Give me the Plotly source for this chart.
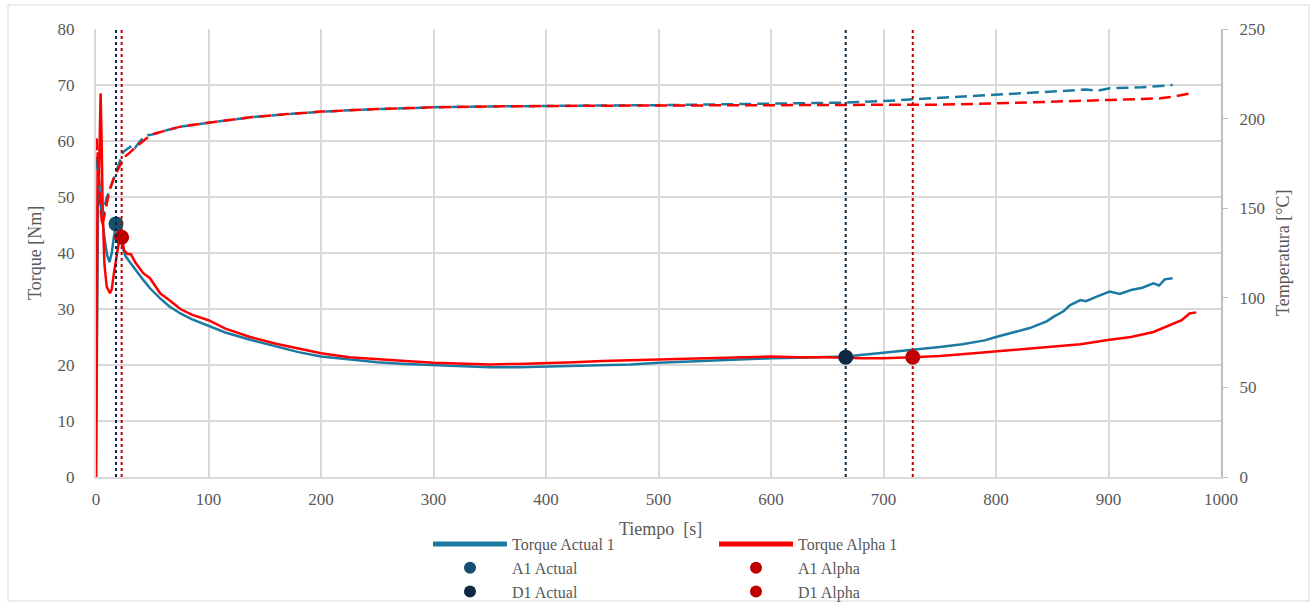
import plotly.graph_objects as go

# ---------------- data ----------------
# Torque (left axis, Nm)
t_torque_actual = [0, 1, 2, 3, 5, 8, 10, 12, 14, 16, 17.8, 20, 23, 26, 30, 35, 42, 48, 57, 65, 75, 85,
                   100, 115, 137, 160, 180, 200, 225, 250, 275, 300, 325, 350, 375, 400, 425, 450, 475,
                   500, 525, 550, 575, 600, 625, 650, 666.4, 680, 700, 720, 735, 750, 770, 790, 800, 815,
                   830, 845, 851, 860, 866, 875, 880, 889.5, 895, 901, 910, 920, 930, 940, 945, 950, 957]
torque_actual = [0, 30, 55, 52, 47, 42, 39.5, 38.4, 40, 43, 45.2, 43.5, 41.5, 39.5, 38.4, 37, 35.2, 33.7,
                 31.9, 30.5, 29.2, 28.2, 27.0, 25.8, 24.5, 23.3, 22.3, 21.5, 21.0, 20.5, 20.2, 20.0, 19.8,
                 19.6, 19.6, 19.7, 19.8, 20.0, 20.1, 20.4, 20.6, 20.9, 21.0, 21.2, 21.3, 21.4, 21.5, 21.8,
                 22.2, 22.6, 22.8, 23.2, 23.7, 24.4, 25.0, 25.8, 26.6, 27.8, 28.6, 29.6, 30.7, 31.6, 31.4,
                 32.2, 32.6, 33.1, 32.7, 33.4, 33.8, 34.6, 34.2, 35.3, 35.5]

t_torque_alpha = [0, 0.8, 1.5, 2.5, 3.3, 4.1, 5, 6, 7.5, 9.5, 12.4, 14, 16, 18, 20, 22.8, 25, 28, 31, 35,
                  42, 48, 57, 65, 75, 85, 100, 115, 137, 160, 180, 200, 225, 250, 275, 300, 325, 350, 375,
                  400, 425, 450, 475, 500, 525, 550, 575, 600, 625, 650, 680, 700, 726, 750, 775, 800, 825,
                  851, 875, 901, 920, 940, 958, 965, 972, 978]
torque_alpha = [0, 40, 58, 52, 60, 68.5, 60, 47, 38, 34, 32.8, 33.5, 36.5, 39.5, 41.5, 42.8, 40.5, 39.8,
                39.8, 38.3, 36.4, 35.5, 32.8, 31.6, 30.0, 29.0, 28.0, 26.5, 25.0, 23.8, 22.9, 22.1, 21.4,
                21.0, 20.7, 20.4, 20.2, 20.1, 20.2, 20.3, 20.5, 20.7, 20.9, 21.0, 21.1, 21.2, 21.3, 21.5,
                21.4, 21.4, 21.2, 21.2, 21.4, 21.6, 22.0, 22.4, 22.8, 23.3, 23.7, 24.5, 25.0, 25.9, 27.4,
                28.0, 29.2, 29.4]

# Temperature (right axis, °C)
t_temp_actual = [0.5, 2, 4, 6, 9, 12, 15.4, 20, 24.3, 30, 33.2, 35, 40, 45, 48, 60, 75, 100, 137, 170,
                 200, 250, 300, 350, 401, 450, 500, 550, 602, 664, 700, 750, 800, 850, 880, 890, 901, 930,
                 950, 957]
temp_actual = [178, 165, 152, 145, 155, 160, 166, 173, 181.5, 184, 185.8, 184, 188, 190.8, 190.8, 193,
               195.5, 197.7, 200.7, 202.5, 203.9, 205.3, 206.3, 206.8, 207.2, 207.3, 207.5, 207.8, 208.5,
               208.9, 209.8, 211.5, 213.2, 214.8, 216.2, 215.5, 216.9, 217.5, 218.3, 218.7]

t_temp_alpha = [0.5, 2, 4, 5.5, 7.5, 9.5, 12, 15.4, 20, 24.3, 30, 35, 45, 48, 60, 75, 100, 137, 170, 200,
                250, 300, 350, 401, 450, 500, 550, 602, 664, 700, 750, 800, 850, 901, 946, 960, 976]
temp_alpha = [189, 170, 152, 140, 146, 154, 160, 166, 172, 178, 181, 184, 189, 190.8, 193, 195.5, 197.7,
              200.7, 202.5, 203.9, 205.3, 206.3, 206.8, 207.2, 207.2, 207.3, 207.4, 207.7, 207.6, 207.6,
              207.8, 208.5, 209.3, 210.4, 211.3, 212.5, 214.5]

# Event points (time s, torque Nm)
a1_actual = (17.8, 45.2)
d1_actual = (666.4, 21.4)
a1_alpha = (22.8, 42.8)
d1_alpha = (726.0, 21.4)

x_ticks = [0, 100, 200, 300, 400, 500, 600, 700, 800, 900, 1000]
x_title = "Tiempo  [s]"
y_title = "Torque [Nm]"
y2_title = "Temperatura [°C]"

# ---------------- styles ----------------
BLUE = "#1a7aa2"
RED = "#ff0000"
A1_ACT_C = "#15506e"
D1_ACT_C = "#0f2843"
ALPHA_PT = "#c00000"
GRID = "#d9d9d9"
TXT = "#595959"
FONT = "Liberation Serif, Times New Roman, Times, serif"
W, H = 1314, 604
PL, PR, PT, PB = 96, 1221, 29, 477          # plot-area pixel box


def px_x(px):
    return (px - PL) / (PR - PL)


def px_y(py):
    return (PB - py) / (PB - PT)


fig = go.Figure()

# temperature dashed lines (not in legend)
fig.add_trace(go.Scatter(x=t_temp_actual, y=temp_actual, mode="lines", yaxis="y2",
                         line=dict(color=BLUE, width=2.5, dash="12px,6px"), showlegend=False,
                         hoverinfo="skip"))
fig.add_trace(go.Scatter(x=t_temp_alpha, y=temp_alpha, mode="lines", yaxis="y2",
                         line=dict(color=RED, width=2.5, dash="12px,6px"), showlegend=False,
                         hoverinfo="skip"))

# torque lines
fig.add_trace(go.Scatter(x=t_torque_actual, y=torque_actual, mode="lines", name="Torque Actual 1",
                         line=dict(color=BLUE, width=2.5), legend="legend"))
fig.add_trace(go.Scatter(x=t_torque_alpha, y=torque_alpha, mode="lines", name="Torque Alpha 1",
                         line=dict(color=RED, width=2.5), legend="legend2"))

# vertical dotted event lines
for (tx, _), col in [(a1_actual, D1_ACT_C), (d1_actual, D1_ACT_C), (a1_alpha, ALPHA_PT), (d1_alpha, ALPHA_PT)]:
    fig.add_vline(x=tx, line=dict(color=col, width=2, dash="dot"))

# event markers
fig.add_trace(go.Scatter(x=[a1_actual[0]], y=[a1_actual[1]], mode="markers", name="A1 Actual",
                         marker=dict(color=A1_ACT_C, size=15), legend="legend"))
fig.add_trace(go.Scatter(x=[d1_actual[0]], y=[d1_actual[1]], mode="markers", name="D1 Actual",
                         marker=dict(color=D1_ACT_C, size=15), legend="legend"))
fig.add_trace(go.Scatter(x=[a1_alpha[0]], y=[a1_alpha[1]], mode="markers", name="A1 Alpha",
                         marker=dict(color=ALPHA_PT, size=15), legend="legend2"))
fig.add_trace(go.Scatter(x=[d1_alpha[0]], y=[d1_alpha[1]], mode="markers", name="D1 Alpha",
                         marker=dict(color=ALPHA_PT, size=15), legend="legend2"))

# outer chart border
fig.add_shape(type="rect", xref="paper", yref="paper",
              x0=px_x(8), x1=px_x(1309), y0=px_y(601), y1=px_y(5),
              line=dict(color=GRID, width=1), fillcolor="rgba(0,0,0,0)", layer="below")

# axis titles
title_font = dict(family=FONT, size=18, color=TXT)
fig.add_annotation(text=x_title, xref="paper", yref="paper", x=px_x(660), y=px_y(529),
                   showarrow=False, font=title_font, xanchor="center", yanchor="middle")
fig.add_annotation(text=y_title, xref="paper", yref="paper", x=px_x(35), y=px_y(253),
                   showarrow=False, font=title_font, textangle=-90, xanchor="center", yanchor="middle")
fig.add_annotation(text=y2_title, xref="paper", yref="paper", x=px_x(1283), y=px_y(253),
                   showarrow=False, font=title_font, textangle=-90, xanchor="center", yanchor="middle")

legend_common = dict(font=dict(family=FONT, size=16, color=TXT), bgcolor="rgba(0,0,0,0)",
                     itemwidth=74, yanchor="top", xanchor="left", tracegroupgap=0,
                     orientation="v", itemsizing="constant")

fig.update_layout(
    width=W, height=H,
    margin=dict(l=PL, r=W - PR, t=PT, b=H - PB, autoexpand=False),
    paper_bgcolor="white", plot_bgcolor="white",
    font=dict(family=FONT, size=17, color=TXT),
    xaxis=dict(range=[0, 1000], tickvals=x_ticks, showgrid=True, gridcolor=GRID, gridwidth=2,
               showline=True, linecolor=GRID, linewidth=2, zeroline=False, ticks="",
               tickfont=dict(family=FONT, size=17, color=TXT), ticklabelstandoff=6),
    yaxis=dict(range=[0, 80], dtick=10, showgrid=True, gridcolor=GRID, gridwidth=2,
               showline=True, linecolor=GRID, linewidth=2, zeroline=False, ticks="",
               tickfont=dict(family=FONT, size=17, color=TXT), ticklabelstandoff=16),
    yaxis2=dict(range=[0, 250], dtick=50, overlaying="y", side="right", showgrid=False,
                showline=True, linecolor="#bfbfbf", linewidth=2, zeroline=False,
                ticks="outside", ticklen=5, tickcolor="#bfbfbf", tickwidth=1,
                tickfont=dict(family=FONT, size=17, color=TXT), ticklabelstandoff=8),
    legend=dict(x=px_x(428), y=px_y(527), **legend_common),
    legend2=dict(x=px_x(714), y=px_y(527), **legend_common),
    showlegend=True,
)

fig.write_html("out.html", config={"displayModeBar": False},
               post_script="document.body.style.margin='0px';document.body.style.overflow='hidden';")
